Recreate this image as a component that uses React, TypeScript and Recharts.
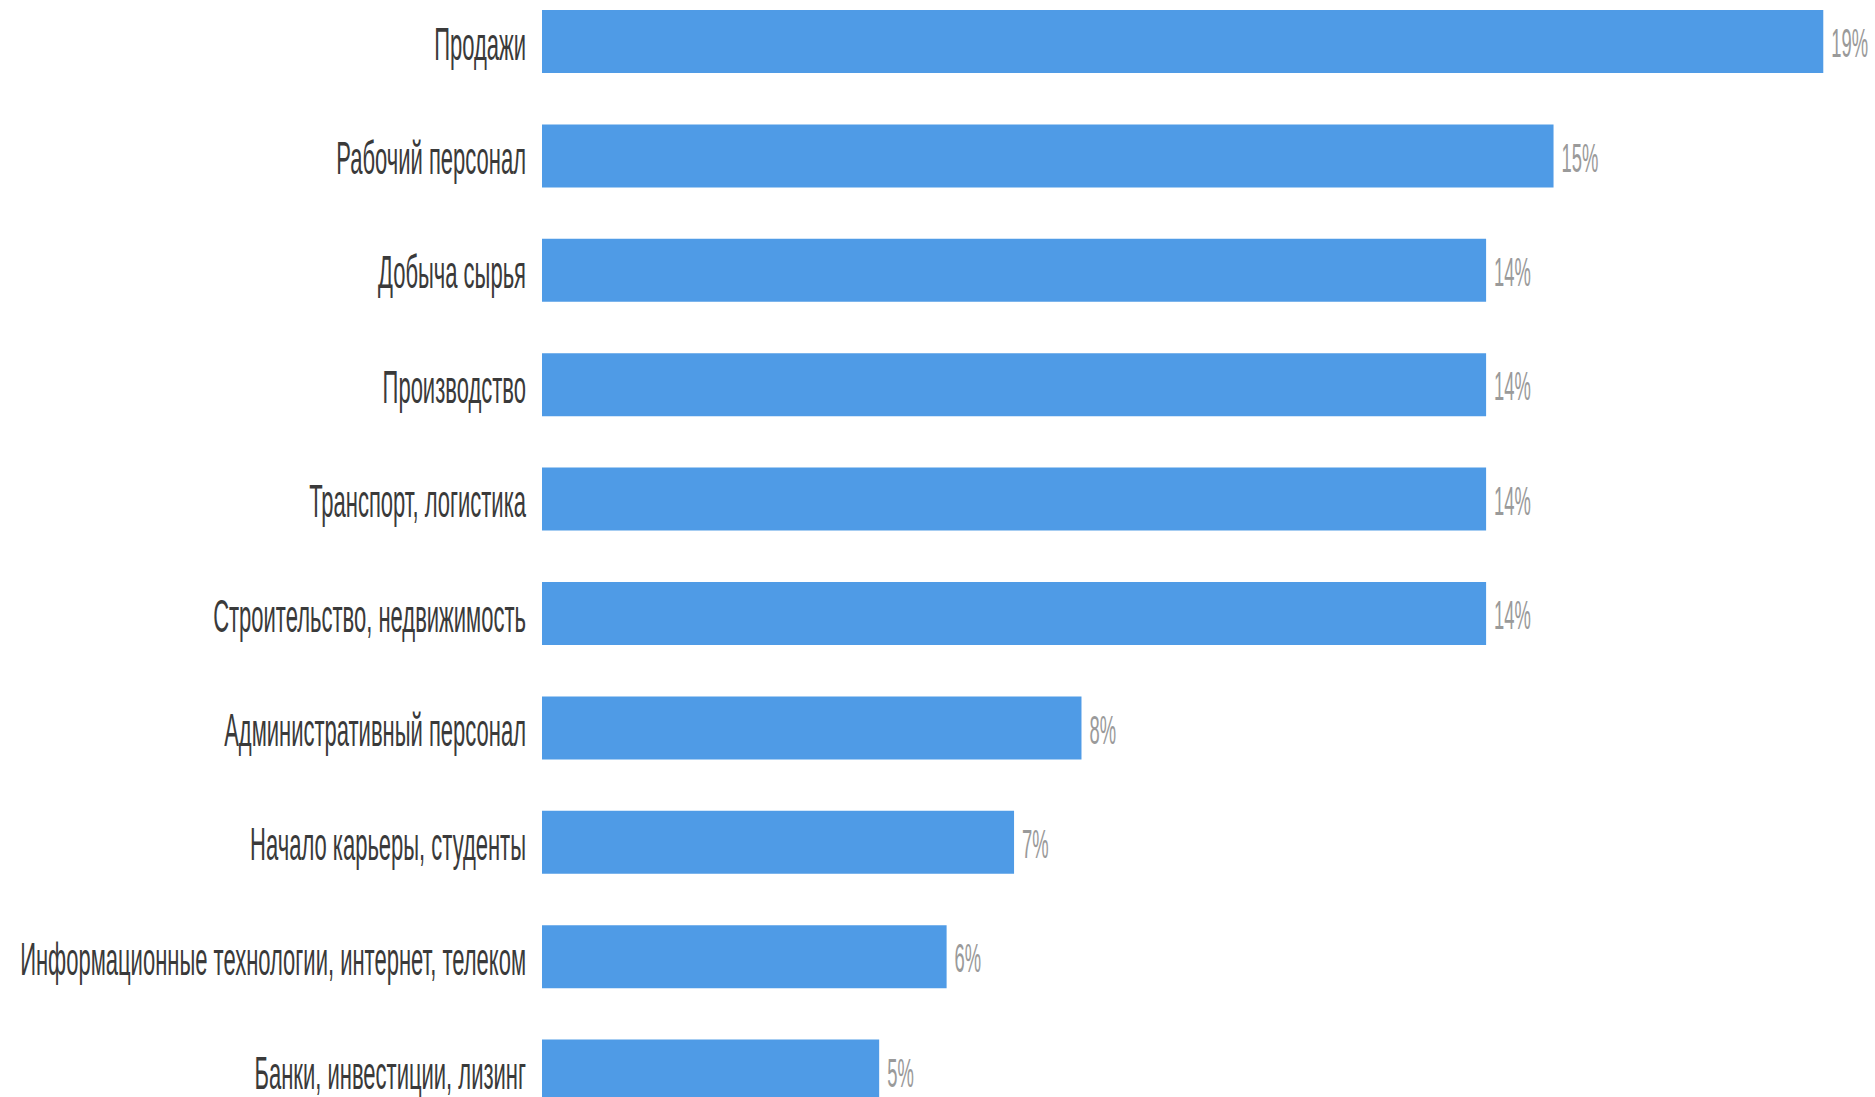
import React from 'react';
import { BarChart, Bar, XAxis, YAxis, LabelList } from 'recharts';

const categories = [
  'Продажи',
  'Рабочий персонал',
  'Добыча сырья',
  'Производство',
  'Транспорт, логистика',
  'Строительство, недвижимость',
  'Административный персонал',
  'Начало карьеры, студенты',
  'Информационные технологии, интернет, телеком',
  'Банки, инвестиции, лизинг',
];
const shares = [19, 15, 14, 14, 14, 14, 8, 7, 6, 5];

// the source picture is stretched vertically, so text gets a scaleY
const FONT = '"Liberation Sans", Arial, sans-serif';

const chartData = categories.map((name, i) => ({ name, value: shares[i] }));

const CategoryTick = ({ x, y, payload }: any) => (
  <g transform={`translate(${x},${y}) scale(1,2.1)`}>
    <text x={0} y={0} dy="0.4em" textAnchor="end" fontSize={22} fontFamily={FONT} fill="#3a3a3a">
      {payload.value}
    </text>
  </g>
);

const ValueLabel = ({ x, y, width, height, value }: any) => (
  <g transform={`translate(${x + width + 8},${y + height / 2}) scale(1,2.2)`}>
    <text x={0} y={0} dy="0.39em" textAnchor="start" fontSize={18.4} fontFamily={FONT} fill="#9a9a9a">
      {value}%
    </text>
  </g>
);

export default function App() {
  return (
    <div style={{ position: 'absolute', left: 0, top: 0, width: 1875, height: 1097, overflow: 'hidden', background: '#fff' }}>
      <div style={{ marginTop: -16 }}>
        <BarChart
          width={1875}
          height={1144}
          data={chartData}
          layout="vertical"
          margin={{ top: 0, right: 18, bottom: 0, left: 0 }}
        >
          <XAxis type="number" domain={[0, 19.5]} hide />
          <YAxis
            type="category"
            dataKey="name"
            width={542}
            axisLine={false}
            tickLine={false}
            tickMargin={10}
            interval={0}
            tick={<CategoryTick />}
          />
          <Bar dataKey="value" fill="#4f9be6" barSize={63} isAnimationActive={false}>
            <LabelList dataKey="value" content={<ValueLabel />} />
          </Bar>
        </BarChart>
      </div>
    </div>
  );
}
